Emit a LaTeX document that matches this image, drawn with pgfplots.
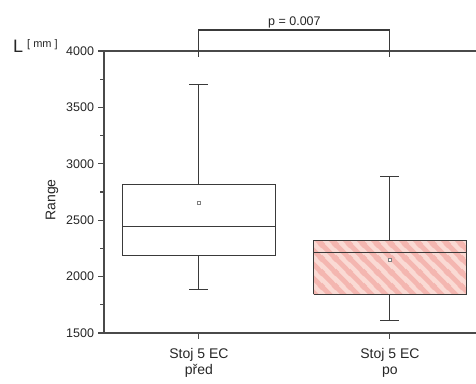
\documentclass[border=0pt]{standalone}
\usepackage{pgfplots}
\pgfplotsset{compat=1.18}
\usetikzlibrary{patterns}
\usepackage{fontspec}
\setmainfont{Liberation Sans}
\definecolor{axisgray}{HTML}{4A4A4A}
\definecolor{boxgray}{HTML}{3A3A3A}
\definecolor{pinkA}{HTML}{FADAD4}
\definecolor{pinkB}{HTML}{F4B6B0}
\newcommand{\tl}[1]{{\fontsize{12.5}{14}\selectfont #1}}
\pgfdeclarepatternformonly{pinkstripes}{\pgfpoint{0pt}{0pt}}{\pgfpoint{14pt}{14pt}}{\pgfpoint{14pt}{14pt}}{%
  \pgfsetlinewidth{5pt}%
  \pgfpathmoveto{\pgfpoint{-1pt}{15pt}}\pgfpathlineto{\pgfpoint{15pt}{-1pt}}%
  \pgfpathmoveto{\pgfpoint{-2pt}{2pt}}\pgfpathlineto{\pgfpoint{2pt}{-2pt}}%
  \pgfpathmoveto{\pgfpoint{12pt}{16pt}}\pgfpathlineto{\pgfpoint{16pt}{12pt}}%
  \pgfusepath{stroke}}
\begin{document}
\begin{tikzpicture}
\begin{axis}[
  scale only axis,
  width=381.4pt, height=282pt,
  xmin=0.503, xmax=2.5,
  ymin=1500, ymax=4000,
  axis line style={axisgray, line width=1.3pt},
  xtick={1,2},
  xticklabels={{Stoj 5 EC\\před},{Stoj 5 EC\\po}},
  xticklabel style={align=center, font=\fontsize{14}{16}\selectfont, text=black!85, yshift=-6pt},
  xtick pos=left, ytick pos=left,
  tick align=outside,
  major tick length=5.5pt, minor tick length=3.5pt,
  tick style={axisgray, line width=1.1pt},
  ytick={1500,2000,2500,3000,3500,4000},
  yticklabels={\tl{1500},\tl{2000},\tl{2500},\tl{3000},\tl{3500},\tl{4000}},
  minor ytick={1750,2250,2750,3250,3750},
  yticklabel style={text=black!85, xshift=-1pt},
  ylabel={Range},
  ylabel style={font=\fontsize{14}{16}\selectfont, text=black!85,
    at={(axis description cs:-0.1363,0.4716)}, anchor=center},
  clip=false,
]
% box 1 (před): Q1 2183, median 2440, Q3 2820, whiskers 1890 / 3700
\addplot[draw=boxgray, line width=1pt, fill=white, mark=none]
  coordinates {(0.6,2183) (1.4,2183) (1.4,2820) (0.6,2820) (0.6,2183)};
\addplot[draw=boxgray, line width=1pt, mark=none] coordinates {(0.6,2440) (1.4,2440)};
\addplot[draw=boxgray, line width=1pt, mark=none] coordinates {(1,2820) (1,3700)};
\addplot[draw=boxgray, line width=1pt, mark=none] coordinates {(1,2183) (1,1890)};
\addplot[draw=boxgray, line width=1pt, mark=none] coordinates {(0.95,3700) (1.05,3700)};
\addplot[draw=boxgray, line width=1pt, mark=none] coordinates {(0.95,1890) (1.05,1890)};
% box 2 (po): Q1 1843, median 2217, Q3 2324, whiskers 1615 / 2890
\addplot[draw=none, fill=pinkA, mark=none]
  coordinates {(1.6,1843) (2.4,1843) (2.4,2324) (1.6,2324) (1.6,1843)};
\addplot[draw=none, pattern=pinkstripes, pattern color=pinkB, mark=none]
  coordinates {(1.6,1843) (2.4,1843) (2.4,2324) (1.6,2324) (1.6,1843)};
\addplot[draw=boxgray, line width=1pt, mark=none]
  coordinates {(1.6,1843) (2.4,1843) (2.4,2324) (1.6,2324) (1.6,1843)};
\addplot[draw=boxgray, line width=1pt, mark=none] coordinates {(1.6,2217) (2.4,2217)};
\addplot[draw=boxgray, line width=1pt, mark=none] coordinates {(2,2324) (2,2890)};
\addplot[draw=boxgray, line width=1pt, mark=none] coordinates {(2,1843) (2,1615)};
\addplot[draw=boxgray, line width=1pt, mark=none] coordinates {(1.95,2890) (2.05,2890)};
\addplot[draw=boxgray, line width=1pt, mark=none] coordinates {(1.95,1615) (2.05,1615)};
% means
\addplot[only marks, mark=square*, mark size=1.7pt,
  mark options={draw=gray, fill=white, line width=0.6pt}]
  coordinates {(1,2652) (2,2150)};
% significance bracket
\draw[boxgray, line width=1.1pt] (axis cs:1,3950) -- (axis cs:1,4186) -- (axis cs:2,4186) -- (axis cs:2,3950);
\node[font=\fontsize{12.5}{14}\selectfont, text=black!85, anchor=base] at (axis cs:1.5,4225) {p = 0.007};
% L [mm]
\node[anchor=base west, inner sep=0pt, text=black!85] at (axis description cs:-0.2386,0.996)
  {{\fontsize{18}{20}\selectfont L}\hspace{4pt}\raisebox{4.5pt}{\fontsize{11}{12}\selectfont[ mm ]}};
\coordinate (bbA) at (axis description cs:-0.27268,-0.1773);
\coordinate (bbB) at (axis description cs:0.97535,1.18085);
\end{axis}
\pgfresetboundingbox
\path[use as bounding box] (bbA) rectangle (bbB);
\end{tikzpicture}
\end{document}
